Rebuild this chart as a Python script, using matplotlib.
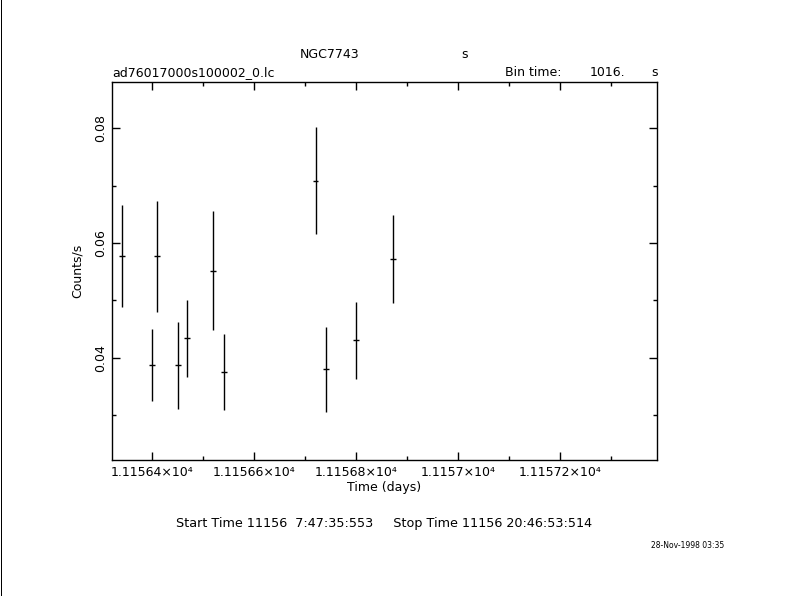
import matplotlib
matplotlib.use("Agg")
import matplotlib.pyplot as plt
from matplotlib.ticker import MultipleLocator, FuncFormatter

# Data (time in days, count rate in counts/s)
time_days = [11156.340, 11156.400, 11156.410, 11156.451, 11156.469, 11156.520,
             11156.540, 11156.720, 11156.741, 11156.800, 11156.871]
rate = [0.0577, 0.0387, 0.0577, 0.0387, 0.0434, 0.0552,
        0.0375, 0.0709, 0.0380, 0.0430, 0.0572]
rate_err = [0.0089, 0.0063, 0.0097, 0.0076, 0.0067, 0.0103,
            0.0066, 0.0093, 0.0074, 0.0068, 0.0076]
bin_time_s = 1016.0
half_bin_days = bin_time_s / 86400.0 / 2.0

xlim = (11156.3204, 11157.389)
ylim = (0.02216, 0.08813)

plt.rcParams['font.family'] = ['DejaVu Sans']

fig = plt.figure(figsize=(7.9, 5.96), dpi=100)
fig.patch.set_facecolor('white')
ax = fig.add_axes([111.7 / 790, 1 - 460 / 596, 545 / 790, (460 - 81.7) / 596])

ax.errorbar(time_days, rate, yerr=rate_err, xerr=half_bin_days, fmt='none',
            ecolor='black', elinewidth=1.0, capsize=0)

ax.set_xlim(*xlim)
ax.set_ylim(*ylim)

ax.xaxis.set_major_locator(MultipleLocator(0.2))
ax.xaxis.set_minor_locator(MultipleLocator(0.1))
ax.yaxis.set_major_locator(MultipleLocator(0.02))
ax.yaxis.set_minor_locator(MultipleLocator(0.01))


def xfmt(v, pos):
    s = f"{v / 1e4:.6f}".rstrip('0').rstrip('.')
    return s + "×10⁴"


def yfmt(v, pos):
    return f"{v:.2f}"


ax.xaxis.set_major_formatter(FuncFormatter(xfmt))
ax.yaxis.set_major_formatter(FuncFormatter(yfmt))

ax.tick_params(which='both', direction='in', top=True, right=True, colors='black',
               labelsize=9)
ax.tick_params(which='major', length=6, width=1)
ax.tick_params(which='minor', length=3, width=1)
ax.tick_params(axis='x', pad=4)
ax.tick_params(axis='y', pad=3)
for lbl in ax.get_yticklabels():
    lbl.set_rotation(90)
    lbl.set_va('center')
for sp in ax.spines.values():
    sp.set_linewidth(1.0)

ax.set_xlabel("Time (days)", fontsize=9, labelpad=2)
ax.set_ylabel("Counts/s", fontsize=9, labelpad=8)

# Header texts
fig.text(330 / 790, 1 - 55 / 596, "NGC7743", ha='center', va='center', fontsize=9)
fig.text(465 / 790, 1 - 55 / 596, "s", ha='center', va='center', fontsize=9)
fig.text(112 / 790, 1 - 73 / 596, "ad76017000s100002_0.lc", ha='left', va='center', fontsize=9)
fig.text(505 / 790, 1 - 73 / 596, "Bin time:", ha='left', va='center', fontsize=9)
fig.text(625 / 790, 1 - 73 / 596, "1016.", ha='right', va='center', fontsize=9)
fig.text(655 / 790, 1 - 73 / 596, "s", ha='center', va='center', fontsize=9)

# Footer texts
fig.text(176 / 790, 1 - 524 / 596,
         "Start Time 11156  7:47:35:553     Stop Time 11156 20:46:53:514",
         ha='left', va='center', fontsize=9.2)
fig.text(688 / 790, 1 - 545 / 596, "28-Nov-1998 03:35", ha='center', va='center', fontsize=5.5)

# Left edge border line
fig.add_artist(plt.Line2D([0.5 / 790, 0.5 / 790], [0, 1], color='black', lw=0.72,
                          antialiased=False, transform=fig.transFigure))

fig.savefig("out.png", dpi=100, facecolor='white')
